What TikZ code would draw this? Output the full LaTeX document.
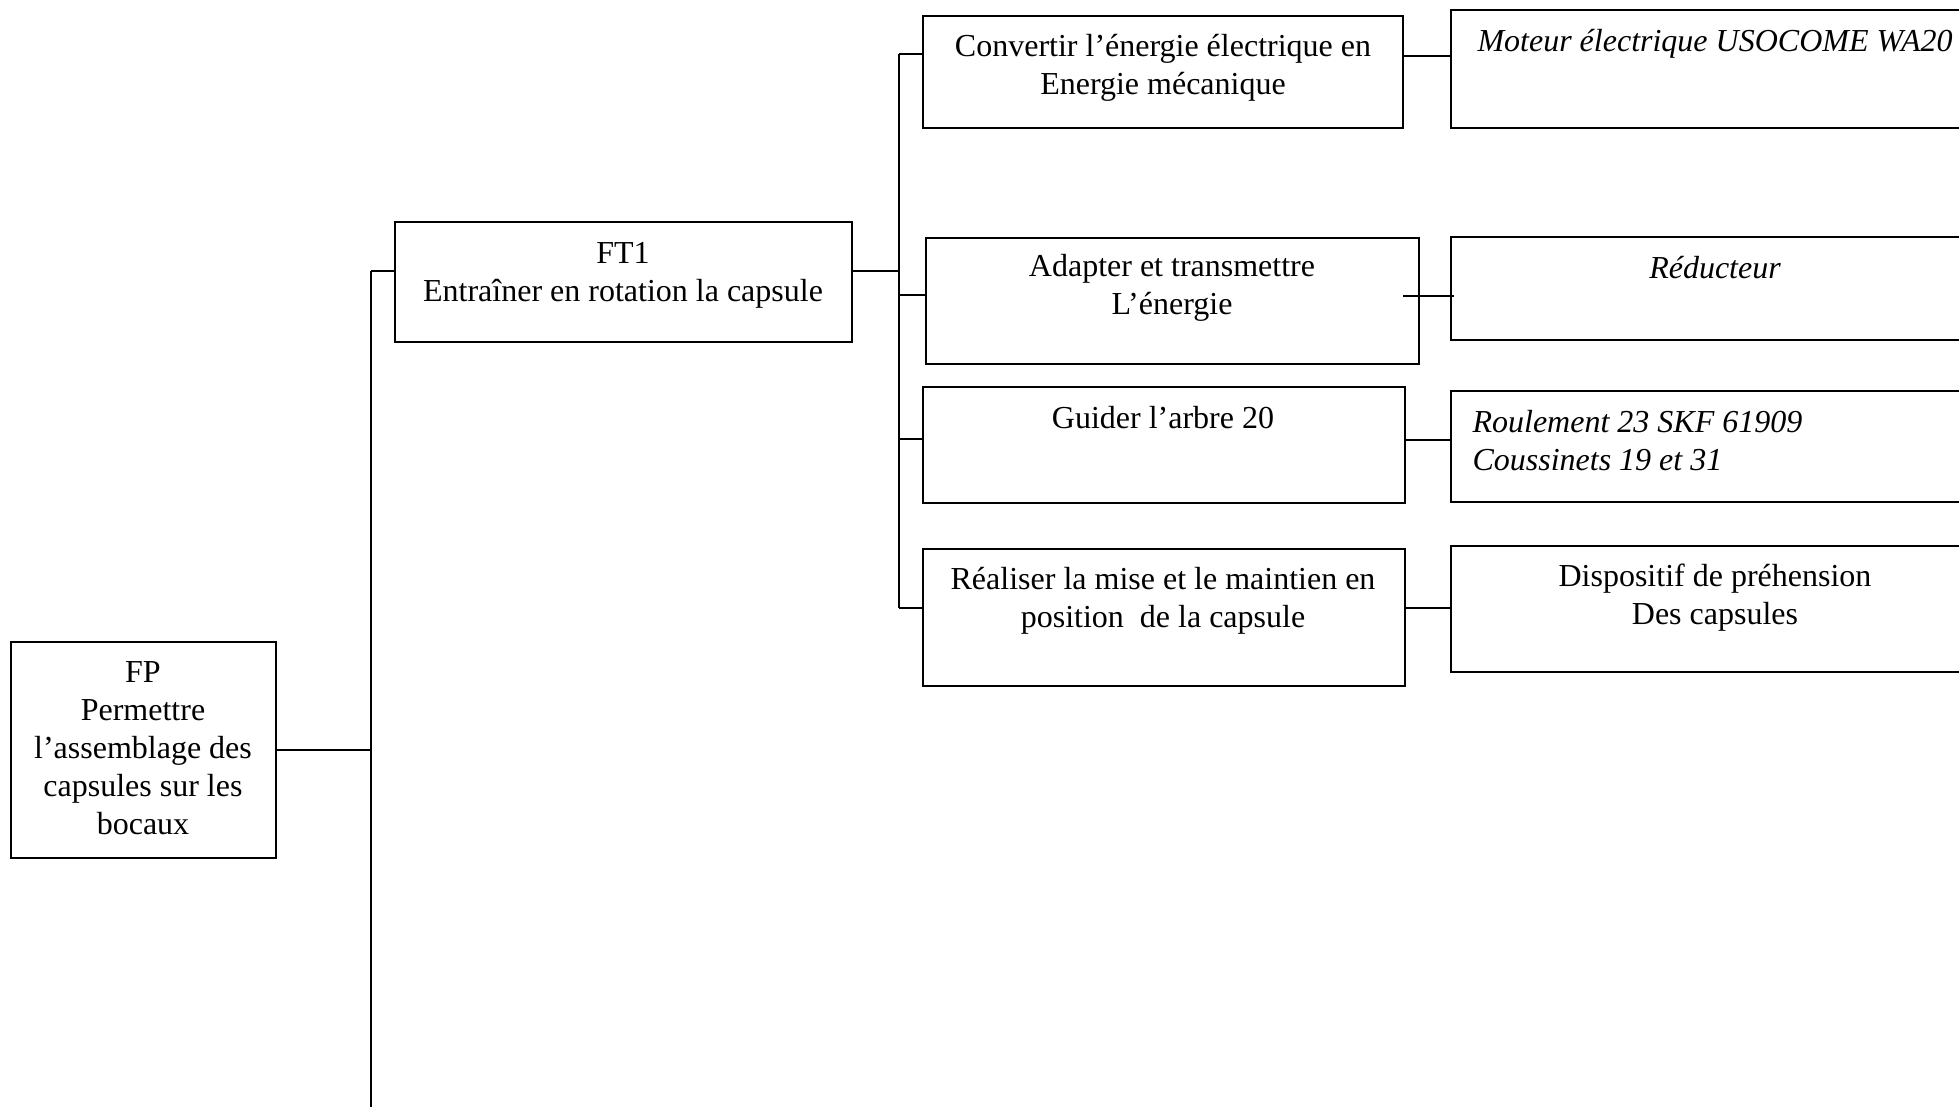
\documentclass[tikz,border=0pt]{standalone}
\usepackage{fontspec}
\setmainfont{Liberation Serif}
\usetikzlibrary{fit}
\begin{document}
\begin{tikzpicture}[x=0.375pt,y=-0.375pt,
  funcbox/.style={draw=black,line width=0.9pt,inner sep=0pt,rectangle},
  conn/.style={draw=black,line width=0.9pt},
  txt/.style={align=center,inner sep=0pt,font=\fontsize{12}{14.25}\selectfont},
  txtl/.style={align=left,inner sep=0pt,font=\fontsize{12}{14.25}\selectfont\itshape}]
\clip (0,0) rectangle (1959,1107);
\fill[white] (0,0) rectangle (1959,1107);
% boxes
\node[funcbox,fit={(11,642) (276,858)}] (FP) {};
\node[funcbox,fit={(395,222) (852,342)}] (FT1) {};
\node[funcbox,fit={(923,16) (1403,128)}] (B1) {};
\node[funcbox,fit={(926,238) (1419,364)}] (B2) {};
\node[funcbox,fit={(923,387) (1405,503)}] (B3) {};
\node[funcbox,fit={(923,549) (1405,686)}] (B4) {};
\node[funcbox,fit={(1451,10) (1985,128)}] (R1) {};
\node[funcbox,fit={(1451,237) (1985,340)}] (R2) {};
\node[funcbox,fit={(1451,391) (1985,502)}] (R3) {};
\node[funcbox,fit={(1451,546) (1985,672)}] (R4) {};
% texts
\node[txt] (FPt) at (143,748) {FP\\Permettre\\l’assemblage des\\capsules sur les\\bocaux};
\node[txt] (FT1t) at (623,275) {FT1\\Entraîner en rotation la capsule};
\node[txt] (B1t) at (1163,68) {Convertir l’énergie électrique en\\Energie mécanique};
\node[txt] (B2t) at (1172,288) {Adapter et transmettre\\L’énergie};
\node[txt] (B3t) at (1163,418) {Guider l’arbre 20};
\node[txt] (B4t) at (1163,601) {Réaliser la mise et le maintien en\\position~ de la capsule};
\node[txt,font=\fontsize{12}{14.25}\selectfont\itshape] (R1t) at (1715,44) {Moteur électrique USOCOME WA20};
\node[txt,font=\fontsize{12}{14.25}\selectfont\itshape] (R2t) at (1715,268) {Réducteur};
\node[txtl,anchor=west] (R3t) at (1472,441) {Roulement 23 SKF 61909\\Coussinets 19 et 31};
\node[txt] (R4t) at (1715,598) {Dispositif de préhension\\Des capsules};
% spines
\coordinate (S1top) at (371,271);
\coordinate (S1bot) at (371,1107);
\coordinate (S2top) at (899,54);
\coordinate (S2bot) at (899,608);
\draw[conn] (S1top) -- (S1bot);
\draw[conn] (FP.east) -- (FP.east -| S1top);
\draw[conn] (S1top) -- (S1top -| FT1.west);
\draw[conn] (S1top -| FT1.east) -- (S1top -| S2top);
\draw[conn] (S2top) -- (S2bot);
\coordinate (b2y) at (899,295);
\coordinate (b3y) at (899,439);
\draw[conn] (S2top) -- (S2top -| B1.west);
\draw[conn] (b2y) -- (b2y -| B2.west);
\draw[conn] (b3y) -- (b3y -| B3.west);
\draw[conn] (S2bot) -- (S2bot -| B4.west);
% right connectors
\coordinate (r1y) at (1403,56);
\coordinate (r2a) at (1403,296);
\coordinate (r2b) at (1454,296);
\coordinate (r3y) at (1405,440);
\coordinate (r4y) at (1405,608);
\draw[conn] (r1y) -- (r1y -| R1.west);
\draw[conn] (r2a) -- (r2b);
\draw[conn] (r3y) -- (r3y -| R3.west);
\draw[conn] (r4y) -- (r4y -| R4.west);
\end{tikzpicture}
\end{document}
